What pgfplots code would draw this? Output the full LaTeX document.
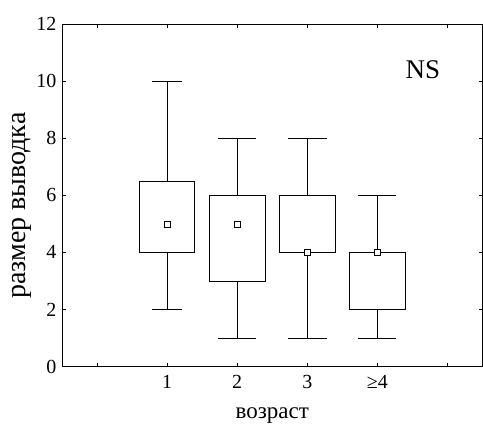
\documentclass[border=0pt]{standalone}
\usepackage{pgfplots}
\pgfplotsset{compat=1.18}
\usepgfplotslibrary{statistics}
\usepackage{fontspec}
\setmainfont{Liberation Serif}
\begin{document}
\begin{tikzpicture}
\begin{axis}[
    scale only axis,
    width=421bp, height=343bp,
    xmin=-0.5, xmax=5.5,
    ymin=0, ymax=12,
    xtick={0,1,2,3,4,5},
    xticklabels={,1,2,3,≥4,},
    ytick={0,2,4,6,8,10,12},
    major tick length=4bp,
    tick style={black, line width=0.6bp},
    axis line style={line width=0.8bp},
    /pgf/number format/assume math mode=true,
    tick label style={font=\fontsize{20bp}{22bp}\selectfont},
    xticklabel style={yshift=-5bp},
    yticklabel style={xshift=-2bp},
    xlabel={возраст},
    ylabel={размер выводка},
    xlabel style={font=\fontsize{23bp}{25bp}\selectfont,
        at={(axis description cs:0.5,-0.152)}, anchor=base},
    ylabel style={font=\fontsize{28bp}{30bp}\selectfont,
        at={(axis description cs:-0.095,0.47)}, anchor=center},
    boxplot/draw direction=y,
    every axis plot/.append style={black, line width=0.7bp},
]

% age 1
\addplot[boxplot prepared={draw position=1, lower whisker=2, lower quartile=4,
    median=5, upper quartile=6.5, upper whisker=10,
    box extend=0.78, whisker extend=0.42,
    every median/.style={draw=none}}]
    coordinates {};
% age 2
\addplot[boxplot prepared={draw position=2, lower whisker=1, lower quartile=3,
    median=5, upper quartile=6, upper whisker=8,
    box extend=0.8, whisker extend=0.55,
    every median/.style={draw=none}}]
    coordinates {};
% age 3
\addplot[boxplot prepared={draw position=3, lower whisker=1, lower quartile=4,
    median=4, upper quartile=6, upper whisker=8,
    box extend=0.8, whisker extend=0.56,
    every median/.style={draw=none}}]
    coordinates {};
% age >=4
\addplot[boxplot prepared={draw position=4, lower whisker=1, lower quartile=2,
    median=4, upper quartile=4, upper whisker=6,
    box extend=0.79, whisker extend=0.54,
    every median/.style={draw=none}}]
    coordinates {};

% medians
\addplot[only marks, mark=square*, mark size=3bp,
    mark options={fill=white, draw=black, line width=0.6bp}]
    coordinates {(1,5) (2,5) (3,4) (4,4)};

\node[anchor=base, font=\fontsize{27bp}{29bp}\selectfont]
    at (axis cs:4.65,10.1) {NS};
\end{axis}
\pgfresetboundingbox
\useasboundingbox (-62bp,-60bp) rectangle (421.5bp,367bp);
\end{tikzpicture}
\end{document}
